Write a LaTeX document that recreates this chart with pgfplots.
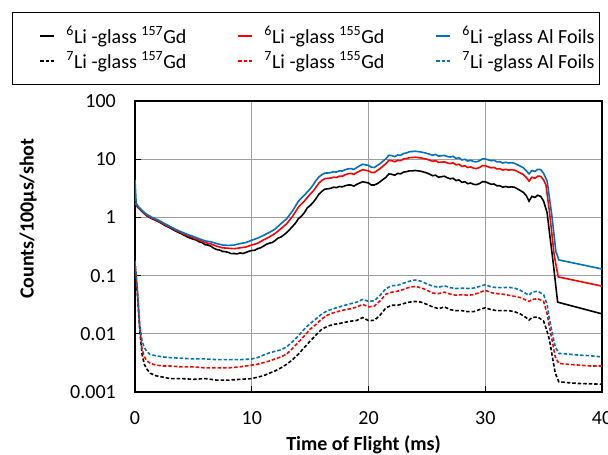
\documentclass[border=0pt]{standalone}
\usepackage{pgfplots}
\pgfplotsset{compat=1.18}
\usepackage{fontspec}
\setmainfont{Carlito}
\definecolor{xred}{RGB}{255,0,0}
\definecolor{xblue}{RGB}{0,112,192}
\newcommand{\tf}{\fontsize{20}{24}\selectfont}
\begin{document}
\begin{tikzpicture}[x=1pt,y=1pt]
\useasboundingbox (0,0) rectangle (608,455);
\begin{axis}[
  at={(135pt,63pt)}, anchor=south west,
  scale only axis, width=467pt, height=291pt,
  xmin=0, xmax=40, ymode=log, ymin=0.001, ymax=100,
  xtick={0,10,20,30,40}, xticklabels={0,10,20,30,40},
  ytick={0.001,0.01,0.1,1,10,100}, yticklabels={0.001,0.01,0.1,1,10,100},
  yminorticks=false,
  xtick pos=bottom, ytick pos=left,
  tick align=inside, major tick length=6pt,
  tick style={black, line width=1.2pt},
  grid=major, major grid style={color=black!38, line width=1.1pt},
  axis line style={black, line width=1.3pt},
  xticklabel style={font=\tf, anchor=center, yshift=-26pt},
  yticklabel style={font=\tf, anchor=east, inner sep=0pt, xshift=-19pt},
  xlabel={\textbf{Time of Flight (ms)}},
  ylabel={\textbf{Counts/100μs/shot}},
  xlabel style={font=\tf, at={(axis description cs:0.4893,-0.1830)}, anchor=center},
  ylabel style={font=\tf, at={(axis description cs:-0.2285,0.5955)}, anchor=center},
  legend columns=3,
  legend cell align=left,
  legend image code/.code={\path[draw=none] (-25pt,0pt) -- (24pt,0pt); \draw[#1] (0pt,0pt) -- (14pt,0pt);},
  legend style={at={(axis description cs:-0.2634,1.3058)}, anchor=north west,
    draw=black, line width=1pt, inner xsep=3pt, inner ysep=12pt, row sep=3pt,
    font=\tf},
  every axis plot/.append style={line width=1.6pt},
]
% 6Li-glass 157Gd (black solid)
\addplot[black] coordinates {
(0.0,1.75)(0.1,1.6)(0.3,1.45)(0.5,1.32)(0.75,1.18)(1.0,1.07)(1.25,1.0)(1.5,0.94)(2.0,0.85)(2.5,0.74)
(3.0,0.66)(3.5,0.58)(4.0,0.52)(4.5,0.46)(5.0,0.42)(5.25,0.41)(5.5,0.38)(5.75,0.37)(6.0,0.34)(6.25,0.335)
(6.5,0.32)(6.75,0.295)(7.0,0.28)(7.25,0.275)(7.5,0.26)(7.75,0.258)(8.0,0.25)(8.25,0.238)(8.5,0.24)(8.75,0.236)
(9.0,0.245)(9.25,0.24)(9.5,0.25)(9.75,0.262)(10.0,0.27)(10.25,0.272)(10.5,0.29)(10.75,0.30)(11.0,0.32)(11.25,0.345)
(11.5,0.36)(11.75,0.37)(12.0,0.40)(12.25,0.44)(12.5,0.46)(12.75,0.50)(13.0,0.55)(13.25,0.62)(13.5,0.70)(13.75,0.80)
(14.0,0.95)(14.25,1.05)(14.5,1.2)(14.75,1.45)(15.0,1.6)(15.25,1.8)(15.5,2.1)(15.75,2.5)(16.0,2.8)(16.25,3.05)
(16.5,3.1)(16.75,3.15)(17.0,3.3)(17.25,3.25)(17.5,3.4)(17.75,3.35)(18.0,3.5)(18.25,3.6)(18.5,3.6)(18.75,3.45)
(19.0,3.7)(19.25,3.9)(19.5,4.1)(19.75,4.0)(20.0,3.9)(20.25,3.6)(20.5,3.6)(20.75,3.8)(21.0,4.1)(21.25,4.5)
(21.5,4.9)(21.75,5.6)(22.0,5.5)(22.25,5.3)(22.5,5.7)(22.75,5.6)(23.0,6.0)(23.25,6.1)(23.5,6.3)(23.75,6.3)
(24.0,6.4)(24.25,6.3)(24.5,6.2)(24.75,6.0)(25.0,5.8)(25.25,5.5)(25.5,5.2)(25.75,5.3)(26.0,4.9)(26.25,5.0)
(26.5,5.1)(26.75,4.8)(27.0,4.6)(27.25,4.7)(27.5,4.3)(27.75,4.4)(28.0,4.0)(28.25,4.1)(28.5,3.8)(28.75,3.9)
(29.0,3.7)(29.25,3.65)(29.5,3.8)(29.75,4.1)(30.0,4.1)(30.25,3.9)(30.5,3.7)(30.75,3.75)(31.0,3.5)(31.25,3.5)
(31.5,3.3)(31.75,3.4)(32.0,3.3)(32.25,3.35)(32.5,3.3)(32.75,3.1)(33.0,2.9)(33.25,2.7)(33.5,2.4)(33.75,1.9)
(34.0,2.3)(34.25,2.2)(34.5,2.4)(34.75,2.3)(35.0,1.9)(35.3,1.2)(35.5,0.55)(35.8,0.18)(36.2,0.035)(40.0,0.022)};
\addlegendentry{\makebox[145pt][l]{\textsuperscript{6}Li -glass \textsuperscript{157}Gd}}
% 6Li-glass 155Gd (red solid)
\addplot[xred] coordinates {
(0.0,1.75)(0.1,1.63)(0.3,1.48)(0.5,1.35)(0.75,1.2)(1.0,1.09)(1.25,1.02)(1.5,0.96)(2.0,0.87)(2.5,0.76)
(3.0,0.68)(3.5,0.60)(4.0,0.54)(4.5,0.485)(5.0,0.445)(5.5,0.405)(6.0,0.37)(6.5,0.35)(7.0,0.32)(7.5,0.30)
(8.0,0.295)(8.5,0.29)(9.0,0.30)(9.5,0.31)(10.0,0.335)(10.5,0.36)(11.0,0.41)(11.5,0.46)(12.0,0.53)(12.5,0.64)
(13.0,0.78)(13.5,1.05)(14.0,1.5)(14.5,1.9)(15.0,2.5)(15.25,2.81)(15.5,3.3)(15.75,3.88)(16.0,4.3)(16.25,4.64)
(16.5,4.7)(16.75,4.73)(17.0,4.9)(17.25,4.85)(17.5,5.1)(17.75,5.09)(18.0,5.4)(18.25,5.63)(18.5,5.7)(18.75,5.48)
(19.0,5.9)(19.25,6.25)(19.5,6.6)(19.75,6.45)(20.0,6.3)(20.25,5.92)(20.5,5.9)(20.75,6.4)(21.0,6.9)(21.25,7.65)
(21.5,8.4)(21.75,9.6)(22.0,9.4)(22.25,9.03)(22.5,9.6)(22.75,9.46)(23.0,10.1)(23.25,10.25)(23.5,10.6)(23.75,10.7)
(24.0,10.8)(24.25,10.65)(24.5,10.5)(24.75,10.25)(25.0,10.0)(25.25,9.6)(25.5,9.2)(25.75,9.45)(26.0,8.8)(26.25,8.9)
(26.5,9.0)(26.75,8.61)(27.0,8.4)(27.25,8.66)(27.5,8.0)(27.75,8.2)(28.0,7.5)(28.25,7.72)(28.5,7.2)(28.75,7.38)
(29.0,7.0)(29.25,6.9)(29.5,7.2)(29.75,7.75)(30.0,7.7)(30.25,7.4)(30.5,7.1)(30.75,7.23)(31.0,6.8)(31.25,6.85)
(31.5,6.5)(31.75,6.7)(32.0,6.5)(32.25,6.6)(32.5,6.5)(32.75,6.15)(33.0,5.8)(33.25,5.46)(33.5,4.9)(33.75,4.2)
(34.0,4.9)(34.25,4.7)(34.5,5.1)(34.75,5.08)(35.0,4.4)(35.2,3.6)(35.5,1.25)(35.9,0.23)(36.25,0.095)(40.0,0.066)};
\addlegendentry{\makebox[145pt][l]{\textsuperscript{6}Li -glass \textsuperscript{155}Gd}}
% 6Li-glass Al Foils (blue solid)
\addplot[xblue] coordinates {
(0.0,4.4)(0.1,1.75)(0.3,1.53)(0.5,1.39)(0.75,1.24)(1.0,1.13)(1.25,1.06)(1.5,0.99)(2.0,0.9)(2.5,0.79)
(3.0,0.70)(3.5,0.62)(4.0,0.56)(4.5,0.51)(5.0,0.47)(5.5,0.43)(6.0,0.395)(6.5,0.38)(7.0,0.355)(7.5,0.335)
(8.0,0.33)(8.5,0.335)(9.0,0.355)(9.5,0.37)(10.0,0.405)(10.5,0.44)(11.0,0.49)(11.5,0.55)(12.0,0.63)(12.5,0.78)
(13.0,0.95)(13.5,1.3)(14.0,1.9)(14.5,2.4)(15.0,3.1)(15.25,3.59)(15.5,4.3)(15.75,4.95)(16.0,5.4)(16.25,5.77)
(16.5,5.8)(16.75,5.86)(17.0,6.1)(17.25,6.01)(17.5,6.3)(17.75,6.26)(18.0,6.6)(18.25,6.84)(18.5,6.9)(18.75,6.66)
(19.0,7.2)(19.25,7.7)(19.5,8.2)(19.75,8.0)(20.0,7.8)(20.25,7.28)(20.5,7.2)(20.75,7.8)(21.0,8.4)(21.25,9.3)
(21.5,10.2)(21.75,11.7)(22.0,11.5)(22.25,11.07)(22.5,11.8)(22.75,11.66)(23.0,12.5)(23.25,12.8)(23.5,13.4)(23.75,13.55)
(24.0,13.7)(24.25,13.5)(24.5,13.3)(24.75,12.95)(25.0,12.6)(25.25,12.15)(25.5,11.7)(25.75,12.08)(26.0,11.3)(26.25,11.45)
(26.5,11.6)(26.75,11.14)(27.0,10.9)(27.25,11.2)(27.5,10.3)(27.75,10.6)(28.0,9.7)(28.25,9.98)(28.5,9.3)(28.75,9.57)
(29.0,9.1)(29.25,9.0)(29.5,9.4)(29.75,10.14)(30.0,10.1)(30.25,9.75)(30.5,9.4)(30.75,9.57)(31.0,9.0)(31.25,9.06)
(31.5,8.6)(31.75,8.86)(32.0,8.6)(32.25,8.73)(32.5,8.5)(32.75,8.05)(33.0,7.6)(33.25,7.14)(33.5,6.4)(33.75,5.6)
(34.0,6.4)(34.25,6.16)(34.5,6.7)(34.75,6.63)(35.0,5.7)(35.3,4.2)(35.7,1.1)(36.05,0.26)(36.3,0.186)(40.0,0.13)};
\addlegendentry{\textsuperscript{6}Li -glass Al Foils}
% 7Li-glass 157Gd (black dashed)
\addplot[black, dash pattern=on 3.5pt off 2pt] coordinates {
(0.0,0.15)(0.2,0.05)(0.4,0.012)(0.6,0.0045)(0.8,0.003)(1.0,0.0025)(1.3,0.0021)(1.8,0.0019)(2.4,0.0018)(3.0,0.0017)
(4.0,0.0017)(5.0,0.00165)(6.0,0.0017)(7.0,0.0016)(8.0,0.0016)(9.0,0.00165)(10.0,0.0017)(10.5,0.0018)(11.0,0.0019)(11.5,0.0021)
(12.0,0.0023)(12.5,0.0026)(13.0,0.003)(13.5,0.0036)(14.0,0.0045)(14.5,0.0058)(15.0,0.0075)(15.5,0.0095)(16.0,0.012)(16.5,0.0135)
(17.0,0.0145)(17.5,0.015)(18.0,0.0158)(18.5,0.0165)(19.0,0.017)(19.5,0.019)(20.0,0.0169)(20.5,0.017)(21.0,0.021)(21.5,0.028)
(22.0,0.031)(22.5,0.031)(23.0,0.033)(23.5,0.035)(24.0,0.036)(24.5,0.035)(25.0,0.032)(25.5,0.029)(26.0,0.027)(26.5,0.029)
(27.0,0.026)(27.5,0.025)(28.0,0.025)(28.5,0.024)(29.0,0.024)(29.5,0.026)(30.0,0.028)(30.5,0.026)(31.0,0.025)(31.5,0.025)
(32.0,0.025)(32.5,0.024)(33.0,0.022)(33.5,0.019)(33.75,0.0172)(34.0,0.019)(34.5,0.0195)(35.0,0.0165)(35.3,0.011)(35.5,0.0079)
(35.8,0.0035)(36.0,0.0021)(36.3,0.0015)(37.0,0.00145)(38.0,0.0014)(39.0,0.00138)(40.0,0.00136)};
\addlegendentry{\makebox[145pt][l]{\textsuperscript{7}Li -glass \textsuperscript{157}Gd}}
% 7Li-glass 155Gd (red dashed)
\addplot[xred, dash pattern=on 3.5pt off 2pt] coordinates {
(0.0,0.16)(0.2,0.055)(0.4,0.013)(0.6,0.0055)(0.8,0.004)(1.0,0.0035)(1.3,0.0031)(1.8,0.0029)(2.4,0.0028)(3.0,0.0028)
(4.0,0.0027)(5.0,0.0027)(6.0,0.0026)(7.0,0.0026)(8.0,0.0026)(9.0,0.0027)(10.0,0.0029)(10.5,0.003)(11.0,0.0032)(11.5,0.0034)
(12.0,0.0037)(12.5,0.004)(13.0,0.0045)(13.5,0.0056)(14.0,0.0072)(14.5,0.0092)(15.0,0.012)(15.5,0.0145)(16.0,0.018)(16.5,0.021)
(17.0,0.023)(17.5,0.0245)(18.0,0.026)(18.5,0.027)(19.0,0.029)(19.5,0.032)(20.0,0.029)(20.5,0.03)(21.0,0.037)(21.5,0.048)
(22.0,0.052)(22.5,0.054)(23.0,0.058)(23.5,0.063)(24.0,0.065)(24.5,0.062)(25.0,0.056)(25.5,0.05)(26.0,0.049)(26.5,0.052)
(27.0,0.048)(27.5,0.046)(28.0,0.047)(28.5,0.046)(29.0,0.047)(29.5,0.051)(30.0,0.056)(30.5,0.051)(31.0,0.049)(31.5,0.048)
(32.0,0.046)(32.5,0.044)(33.0,0.042)(33.5,0.038)(33.75,0.036)(34.0,0.039)(34.5,0.04)(35.0,0.036)(35.3,0.022)(35.5,0.0132)
(35.8,0.0065)(36.0,0.004)(36.3,0.0031)(37.0,0.003)(38.0,0.0029)(39.0,0.0028)(40.0,0.0028)};
\addlegendentry{\makebox[145pt][l]{\textsuperscript{7}Li -glass \textsuperscript{155}Gd}}
% 7Li-glass Al Foils (blue dashed)
\addplot[xblue, dash pattern=on 3.5pt off 2pt] coordinates {
(0.0,0.18)(0.2,0.06)(0.4,0.015)(0.6,0.0075)(0.8,0.0058)(1.0,0.005)(1.3,0.0044)(1.8,0.0042)(2.4,0.004)(3.0,0.0039)
(4.0,0.0038)(5.0,0.0037)(6.0,0.0037)(7.0,0.0036)(8.0,0.0036)(9.0,0.0036)(10.0,0.0037)(10.5,0.0039)(11.0,0.0043)(11.5,0.0047)
(12.0,0.005)(12.5,0.0053)(13.0,0.006)(13.5,0.0073)(14.0,0.0093)(14.5,0.012)(15.0,0.015)(15.5,0.018)(16.0,0.022)(16.5,0.025)
(17.0,0.027)(17.5,0.029)(18.0,0.031)(18.5,0.033)(19.0,0.035)(19.5,0.039)(20.0,0.036)(20.5,0.037)(21.0,0.046)(21.5,0.06)
(22.0,0.067)(22.5,0.068)(23.0,0.074)(23.5,0.08)(24.0,0.084)(24.5,0.08)(25.0,0.072)(25.5,0.066)(26.0,0.063)(26.5,0.067)
(27.0,0.062)(27.5,0.06)(28.0,0.061)(28.5,0.06)(29.0,0.061)(29.5,0.065)(30.0,0.07)(30.5,0.064)(31.0,0.062)(31.5,0.062)
(32.0,0.063)(32.5,0.061)(33.0,0.056)(33.5,0.049)(33.75,0.046)(34.0,0.052)(34.5,0.054)(35.0,0.047)(35.3,0.032)(35.5,0.0177)
(35.8,0.009)(36.0,0.006)(36.3,0.0046)(37.0,0.0045)(38.0,0.0043)(39.0,0.0042)(40.0,0.004)};
\addlegendentry{\textsuperscript{7}Li -glass Al Foils}
\end{axis}
\end{tikzpicture}
\end{document}
